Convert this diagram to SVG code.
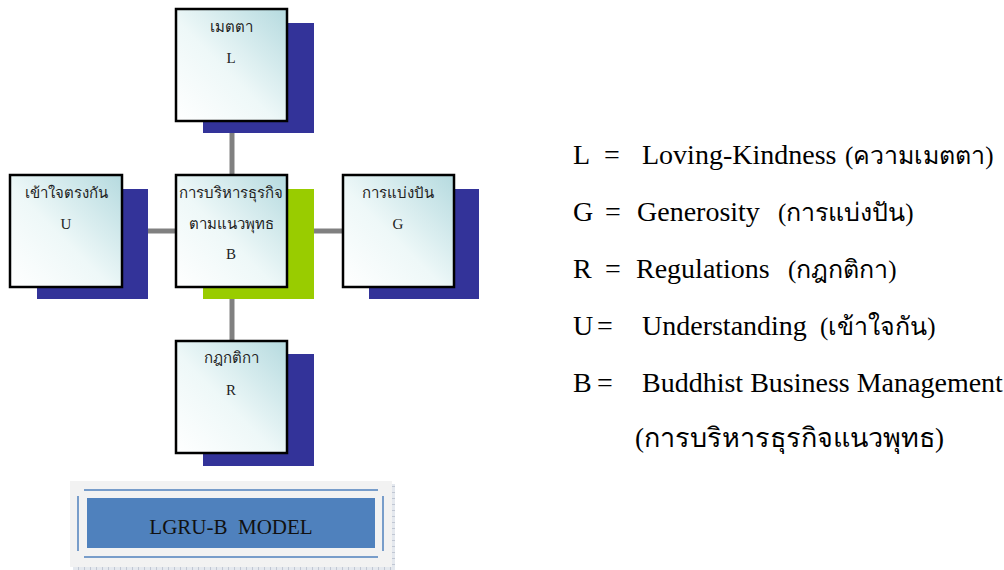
<svg xmlns="http://www.w3.org/2000/svg" width="1004" height="570" viewBox="0 0 1004 570">
<style>
.box{fill:url(#g);stroke:#000;stroke-width:2.5}
.sh{fill:#333399}
.shg{fill:#99cc00}
.con{stroke:#808080;stroke-width:5;fill:none}
.bt{font-family:"Liberation Serif","DejaVu Serif","DejaVu Sans",serif;font-size:15px;fill:#222;text-anchor:middle}
.lg{font-family:"Liberation Serif","DejaVu Serif","DejaVu Sans",serif;font-size:28px;fill:#000}
.th{font-family:"Liberation Serif","DejaVu Serif","DejaVu Sans",serif;font-size:25px;fill:#000}
</style>
<defs>
<linearGradient id="g" x1="0" y1="1" x2="1" y2="0">
<stop offset="0" stop-color="#ffffff"/>
<stop offset="0.45" stop-color="#eef8f8"/>
<stop offset="1" stop-color="#b5dadf"/>
</linearGradient>
<pattern id="grid" width="6" height="6" patternUnits="userSpaceOnUse">
<rect width="6" height="6" fill="#e4e8ee"/>
<path d="M0 0H6M0 0V6" stroke="#8c96aa" stroke-width="0.8"/>
</pattern>
</defs>
<rect width="1004" height="570" fill="#fff"/>
<g id="connectors">
<line class="con" x1="232" y1="133" x2="232" y2="175"/>
<line class="con" x1="232" y1="299" x2="232" y2="341"/>
<line class="con" x1="148" y1="231" x2="176" y2="231"/>
<line class="con" x1="314" y1="231" x2="343" y2="231"/>
</g>
<g id="node-L">
<rect class="sh" x="203" y="23" width="111" height="110"/>
<rect class="box" x="176" y="9" width="111" height="112"/>
<text class="bt" x="231" y="32">เมตตา</text>
<text class="bt" x="231" y="63">L</text>
</g>
<g id="node-U">
<rect class="sh" x="37" y="189" width="111" height="110"/>
<rect class="box" x="10" y="175" width="112" height="112"/>
<text class="bt" x="66" y="198">เข้าใจตรงกัน</text>
<text class="bt" x="66" y="229">U</text>
</g>
<g id="node-B">
<rect class="shg" x="203" y="189" width="111" height="110"/>
<rect class="box" x="176" y="175" width="111" height="112"/>
<text class="bt" x="231" y="198">การบริหารธุรกิจ</text>
<text class="bt" x="231" y="229">ตามแนวพุทธ</text>
<text class="bt" x="231" y="259">B</text>
</g>
<g id="node-G">
<rect class="sh" x="369" y="189" width="110" height="110"/>
<rect class="box" x="343" y="175" width="111" height="112"/>
<text class="bt" x="398" y="198">การแบ่งปัน</text>
<text class="bt" x="398" y="229">G</text>
</g>
<g id="node-R">
<rect class="sh" x="203" y="354" width="111" height="112"/>
<rect class="box" x="176" y="341" width="111" height="112"/>
<text class="bt" x="231" y="363">กฎกติกา</text>
<text class="bt" x="231" y="395">R</text>
</g>
<g id="model-banner">
<rect x="73" y="484" width="322" height="86" fill="url(#grid)"/>
<rect x="70" y="481" width="322" height="86" fill="#f2f2f2"/>
<line x1="84" y1="490" x2="378" y2="490" stroke="#4f81bd" stroke-width="1.5"/>
<line x1="84" y1="557" x2="378" y2="557" stroke="#4f81bd" stroke-width="1.5"/>
<line x1="78" y1="496" x2="78" y2="551" stroke="#4f81bd" stroke-width="1.5"/>
<line x1="383" y1="496" x2="383" y2="551" stroke="#4f81bd" stroke-width="1.5"/>
<rect x="87" y="498" width="288" height="50" fill="#4f81bd"/>
<text x="231" y="534" font-family="Liberation Serif, serif" font-size="21" text-anchor="middle" fill="#111" xml:space="preserve">LGRU-B  MODEL</text>
</g>
<g id="legend">
<text class="lg" x="573" y="164">L</text>
<text class="lg" x="604" y="164">=</text>
<text class="lg" x="642" y="164">Loving-Kindness</text>
<text class="th" x="845" y="164">(ความเมตตา)</text>
<text class="lg" x="573" y="221">G</text>
<text class="lg" x="605" y="221">=</text>
<text class="lg" x="637" y="221">Generosity</text>
<text class="th" x="778" y="221">(การแบ่งปัน)</text>
<text class="lg" x="573" y="278">R</text>
<text class="lg" x="605" y="278">=</text>
<text class="lg" x="636" y="278">Regulations</text>
<text class="th" x="788" y="278">(กฎกติกา)</text>
<text class="lg" x="573" y="335">U</text>
<text class="lg" x="597" y="335">=</text>
<text class="lg" x="642" y="335">Understanding</text>
<text class="th" x="820" y="335">(เข้าใจกัน)</text>
<text class="lg" x="573" y="392">B</text>
<text class="lg" x="597" y="392">=</text>
<text class="lg" x="642" y="392">Buddhist Business Management</text>
<text class="th" x="635" y="447" style="font-size:27px">(การบริหารธุรกิจแนวพุทธ)</text>
</g>
</svg>
